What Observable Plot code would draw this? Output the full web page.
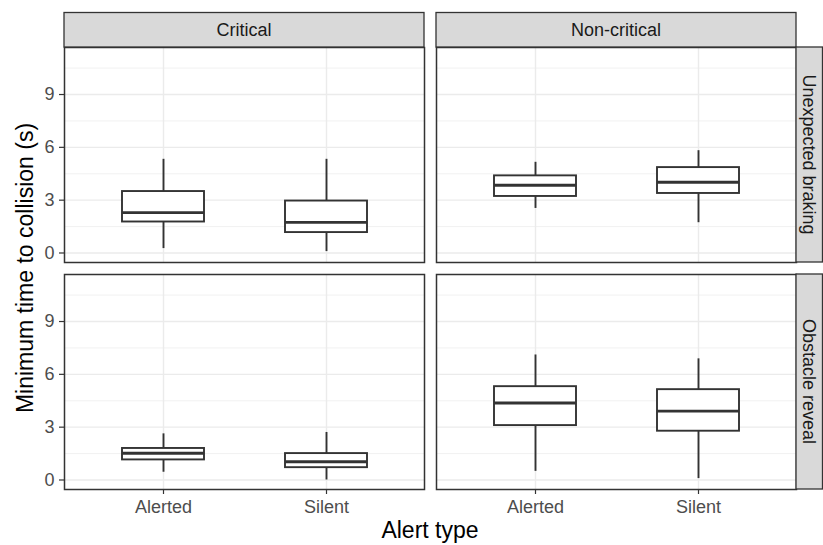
<!DOCTYPE html>
<html>
<head>
<meta charset="utf-8">
<script src="https://cdn.jsdelivr.net/npm/d3@7"></script>
<script src="https://cdn.jsdelivr.net/npm/@observablehq/plot@0.6"></script>
<style>
  html, body { margin: 0; padding: 0; background: white; }
  svg { display: block; }
</style>
</head>
<body>
<div id="chart"></div>
<script>
// ---- Data ----
const severities = ["Critical", "Non-critical"];
const scenarios = ["Unexpected braking", "Obstacle reveal"];
const alertTypes = ["Alerted", "Silent"];

const boxSeverity = ["Critical", "Critical", "Non-critical", "Non-critical", "Critical", "Critical", "Non-critical", "Non-critical"];
const boxScenario = ["Unexpected braking", "Unexpected braking", "Unexpected braking", "Unexpected braking", "Obstacle reveal", "Obstacle reveal", "Obstacle reveal", "Obstacle reveal"];
const boxAlert = ["Alerted", "Silent", "Alerted", "Silent", "Alerted", "Silent", "Alerted", "Silent"];
const whiskerLow = [0.25, 0.08, 2.53, 1.72, 0.44, 0.00, 0.49, 0.08];
const q1 = [1.76, 1.16, 3.21, 3.38, 1.14, 0.70, 3.09, 2.77];
const median = [2.29, 1.74, 3.85, 4.02, 1.52, 1.04, 4.37, 3.91];
const q3 = [3.49, 2.95, 4.38, 4.85, 1.79, 1.50, 5.30, 5.13];
const whiskerHigh = [5.32, 5.32, 5.15, 5.81, 2.62, 2.70, 7.10, 6.88];

const yTicks = [0, 3, 6, 9];
const yMinorTicks = [1.5, 4.5, 7.5, 10.5];
const yDomain = [-0.54, 11.67];

const xTitle = "Alert type";
const yTitle = "Minimum time to collision (s)";

// ---- Build table ----
const boxes = boxSeverity.map((s, i) => ({
  severity: s, scenario: boxScenario[i], alert: boxAlert[i],
  low: whiskerLow[i], q1: q1[i], med: median[i], q3: q3[i], high: whiskerHigh[i]
}));

const font = "'Liberation Sans', Arial, Helvetica, sans-serif";
const W = 823, H = 545;
const dark = "#333333";

const chart = Plot.plot({
  width: W, height: H,
  marginLeft: 64, marginRight: 27, marginTop: 47, marginBottom: 56,
  style: {fontFamily: font, background: "white", overflow: "visible"},
  fx: {domain: severities, axis: null, paddingInner: 12 / 372, paddingOuter: 0},
  fy: {domain: scenarios, axis: null, paddingInner: 12 / 227, paddingOuter: 0},
  x: {domain: alertTypes, paddingInner: 0.5, paddingOuter: 0.35, align: 0.5},
  y: {domain: yDomain},
  marks: [
    Plot.gridY(yMinorTicks, {stroke: "#ebebeb", strokeOpacity: 1, strokeWidth: 0.7}),
    Plot.gridY(yTicks, {stroke: "#ebebeb", strokeOpacity: 1, strokeWidth: 1.4}),
    Plot.gridX(alertTypes, {stroke: "#ebebeb", strokeOpacity: 1, strokeWidth: 1.4}),
    Plot.ruleX(boxes, {fx: "severity", fy: "scenario", x: "alert", y1: "low", y2: "q1", stroke: dark, strokeWidth: 1.9}),
    Plot.ruleX(boxes, {fx: "severity", fy: "scenario", x: "alert", y1: "q3", y2: "high", stroke: dark, strokeWidth: 1.9}),
    Plot.barY(boxes, {fx: "severity", fy: "scenario", x: "alert", y1: "q1", y2: "q3", fill: "white", stroke: dark, strokeWidth: 1.9}),
    Plot.tickY(boxes, {fx: "severity", fy: "scenario", x: "alert", y: "med", stroke: dark, strokeWidth: 2.9}),
    Plot.frame({stroke: dark, strokeWidth: 1.5}),
    Plot.axisY(yTicks, {tickSize: 5, tickPadding: 5, fontSize: 18, fill: "#4d4d4d", stroke: dark, strokeWidth: 1.2, label: null}),
    Plot.axisX({tickSize: 5, tickPadding: 5.5, fontSize: 18, fill: "#4d4d4d", stroke: dark, strokeWidth: 1.2, label: null})
  ]
});

document.getElementById("chart").appendChild(chart);

// ---- Facet strips and axis titles ----
const svgNode = chart.tagName.toLowerCase() === "svg" ? chart : chart.querySelector("svg");
const svg = d3.select(svgNode);
const root = svgNode.getBoundingClientRect();
let frames = [...svgNode.querySelectorAll('[aria-label="frame"]')].map(el => {
  const r = el.tagName.toLowerCase() === "rect" ? el : el.querySelector("rect");
  if (!r) return null;
  const b = r.getBoundingClientRect();
  return {x: b.left - root.left, y: b.top - root.top, w: b.width, h: b.height};
}).filter(d => d && d.w > 50);
if (frames.length < 4) {
  frames = [
    {x: 64, y: 47, w: 360, h: 215}, {x: 436, y: 47, w: 360, h: 215},
    {x: 64, y: 274, w: 360, h: 215}, {x: 436, y: 274, w: 360, h: 215}
  ];
}
const minY = d3.min(frames, d => d.y);
const maxR = d3.max(frames, d => d.x + d.w);
const stripH = 34.5, stripW = 26.5;
const stripG = svg.append("g").attr("font-family", font);

// top strips
frames.filter(f => Math.abs(f.y - minY) < 2).sort((a, b) => a.x - b.x).forEach((f, i) => {
  stripG.append("rect").attr("x", f.x).attr("y", f.y - stripH).attr("width", f.w).attr("height", stripH)
    .attr("fill", "#d9d9d9").attr("stroke", dark).attr("stroke-width", 1.3);
  stripG.append("text").attr("x", f.x + f.w / 2).attr("y", f.y - stripH / 2)
    .attr("text-anchor", "middle").attr("dy", "0.35em").attr("font-size", 18).attr("fill", "#1a1a1a")
    .text(severities[i]);
});
// right strips
frames.filter(f => Math.abs(f.x + f.w - maxR) < 2).sort((a, b) => a.y - b.y).forEach((f, i) => {
  stripG.append("rect").attr("x", f.x + f.w).attr("y", f.y).attr("width", stripW).attr("height", f.h)
    .attr("fill", "#d9d9d9").attr("stroke", dark).attr("stroke-width", 1.3);
  stripG.append("text")
    .attr("transform", `translate(${f.x + f.w + stripW / 2},${f.y + f.h / 2}) rotate(90)`)
    .attr("text-anchor", "middle").attr("dy", "0.35em").attr("font-size", 18).attr("fill", "#1a1a1a")
    .text(scenarios[i]);
});

// axis titles
const minX = d3.min(frames, d => d.x);
const maxB = d3.max(frames, d => d.y + d.h);
stripG.append("text").attr("x", (minX + maxR) / 2).attr("y", 538)
  .attr("text-anchor", "middle").attr("font-size", 23).attr("fill", "black").text(xTitle);
stripG.append("text")
  .attr("transform", `translate(33,${(minY + maxB) / 2}) rotate(-90)`)
  .attr("text-anchor", "middle").attr("font-size", 23).attr("fill", "black").text(yTitle);
</script>
</body>
</html>
